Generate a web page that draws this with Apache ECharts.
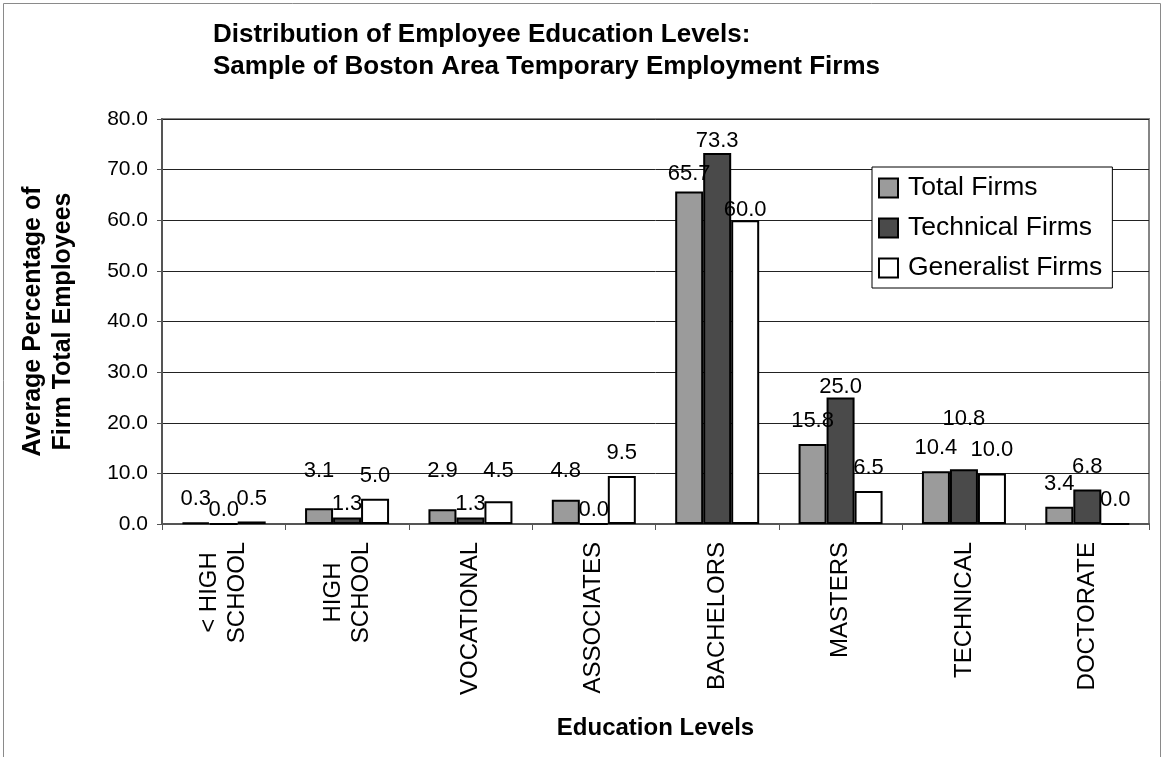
<!DOCTYPE html>
<html>
<head>
<meta charset="utf-8">
<title>Distribution of Employee Education Levels</title>
<script src="https://cdn.jsdelivr.net/npm/echarts@6/dist/echarts.min.js"></script>
<style>
  html, body { margin: 0; padding: 0; background: #fff; }
  #chart { width: 1165px; height: 757px; }
</style>
</head>
<body>
<div id="chart"></div>
<script>
// Education levels (x categories) and the three firm groups
const categories = ['< HIGH\nSCHOOL', 'HIGH\nSCHOOL', 'VOCATIONAL', 'ASSOCIATES', 'BACHELORS', 'MASTERS', 'TECHNICAL', 'DOCTORATE'];
const seriesNames = ['Total Firms', 'Technical Firms', 'Generalist Firms'];
const totalFirms = [0.3, 3.1, 2.9, 4.8, 65.7, 15.8, 10.4, 3.4];
const technicalFirms = [0.0, 1.3, 1.3, 0.0, 73.3, 25.0, 10.8, 6.8];
const generalistFirms = [0.5, 5.0, 4.5, 9.5, 60.0, 6.5, 10.0, 0.0];
const yMin = 0, yMax = 80, yStep = 10;

const FONT = 'Liberation Sans, Arial, Helvetica, sans-serif';

// Hand-placed label lifts (px, positive = up) for labels moved off their default spot
const labelLift = {
  'Total Firms': { 1: 14, 2: 15, 3: 6, 4: -6 },
  'Technical Firms': { 0: -10, 1: -10, 2: -10, 3: -10, 4: -11, 5: -12, 6: 27 },
  'Generalist Firms': { 2: 7, 4: -13 }
};

const fills = {
  'Total Firms': '#9b9b9b',
  'Technical Firms': '#4a4a4a',
  'Generalist Firms': '#ffffff'
};

function buildData(name, values) {
  const lifts = labelLift[name] || {};
  return values.map((v, i) => {
    const item = { value: v };
    if (lifts[i] !== undefined) item.label = { offset: [0, -lifts[i]] };
    return item;
  });
}

function barSeries(name, values) {
  return {
    name: name,
    type: 'bar',
    barWidth: 28,
    barGap: '0%',
    data: buildData(name, values),
    itemStyle: { color: fills[name], borderColor: '#000', borderWidth: 2 },
    label: {
      show: true,
      position: 'top',
      distance: 12,
      color: '#000',
      fontFamily: FONT,
      fontSize: 22,
      formatter: p => p.value.toFixed(1)
    },
    emphasis: { disabled: true },
    animation: false
  };
}

const chart = echarts.init(document.getElementById('chart'), null, { renderer: 'canvas' });

chart.setOption({
  backgroundColor: '#fff',
  animation: false,
  title: {
    text: 'Distribution of Employee Education Levels:\nSample of Boston Area Temporary Employment Firms',
    left: 208,
    top: 14,
    textStyle: { fontFamily: FONT, fontSize: 26, fontWeight: 'bold', color: '#000', lineHeight: 32 }
  },
  legend: {
    orient: 'vertical',
    left: 872,
    top: 167,
    data: seriesNames,
    icon: 'rect',
    itemWidth: 19,
    itemHeight: 19,
    itemGap: 10,
    padding: [6, 10, 5, 6],
    backgroundColor: '#fff',
    borderColor: '#000',
    borderWidth: 1,
    borderRadius: 0,
    itemStyle: { borderColor: '#000', borderWidth: 2 },
    textStyle: { fontFamily: FONT, fontSize: 26.5, color: '#000', lineHeight: 30, padding: [0, 0, 0, 5] },
    selectedMode: false
  },
  grid: {
    left: 162,
    right: 16,
    top: 119,
    bottom: 233,
    show: true,
    borderColor: '#858585',
    borderWidth: 2,
    backgroundColor: '#fff'
  },
  xAxis: {
    type: 'category',
    data: categories,
    name: 'Education Levels',
    nameLocation: 'middle',
    nameGap: 192,
    nameTextStyle: { fontFamily: FONT, fontSize: 24, fontWeight: 'bold', color: '#000' },
    axisLine: { lineStyle: { color: '#555', width: 2 } },
    axisTick: { show: true, length: 6, lineStyle: { color: '#555', width: 1 } },
    axisLabel: {
      rotate: 90,
      margin: 18,
      interval: 0,
      fontFamily: FONT,
      fontSize: 24,
      color: '#000',
      lineHeight: 28,
      formatter: v => v.indexOf('\n') >= 0 ? v.split('\n').map(s => '{c|' + s + '}').join('\n') : v,
      rich: {
        c: { width: 101, align: 'center', fontFamily: FONT, fontSize: 24, color: '#000', lineHeight: 28 }
      }
    }
  },
  yAxis: {
    type: 'value',
    min: yMin,
    max: yMax,
    interval: yStep,
    name: 'Average Percentage of\nFirm Total Employees',
    nameLocation: 'middle',
    nameGap: 84,
    nameRotate: 90,
    nameTextStyle: { fontFamily: FONT, fontSize: 25, fontWeight: 'bold', color: '#000', lineHeight: 30 },
    axisLine: { show: true, lineStyle: { color: '#555', width: 2 } },
    axisTick: { show: true, length: 5, lineStyle: { color: '#555', width: 1 } },
    axisLabel: {
      margin: 14,
      fontFamily: FONT,
      fontSize: 21,
      color: '#000',
      formatter: v => v.toFixed(1)
    },
    splitLine: { show: true, lineStyle: { color: '#222', width: 1 } }
  },
  graphic: [{
    type: 'rect',
    shape: { x: 3.5, y: 3.5, width: 1157, height: 800 },
    style: { fill: 'none', stroke: '#8a8a8a', lineWidth: 1 },
    silent: true,
    z: -1
  }],
  series: [
    barSeries('Total Firms', totalFirms),
    barSeries('Technical Firms', technicalFirms),
    barSeries('Generalist Firms', generalistFirms)
  ]
});
</script>
</body>
</html>
